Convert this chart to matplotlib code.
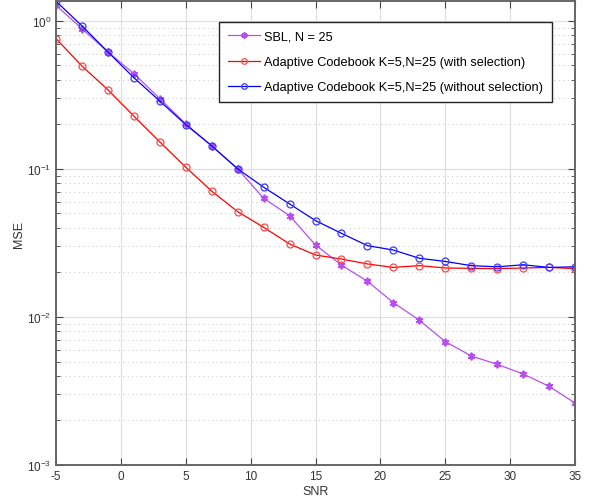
import matplotlib
matplotlib.use('Agg')
import matplotlib.pyplot as plt
from matplotlib.ticker import LogLocator, NullFormatter

# SNR grid (dB)
snr = [-5, -3, -1, 1, 3, 5, 7, 9, 11, 13, 15, 17, 19, 21, 23, 25, 27, 29, 31, 33, 35]

# MSE curves
mse_sbl = [1.27, 0.885, 0.616, 0.44, 0.298, 0.201, 0.143, 0.100, 0.0633, 0.0483, 0.0306,
           0.0224, 0.0174, 0.0125, 0.0095, 0.00682, 0.00545, 0.00479, 0.00412, 0.0034, 0.00262]
mse_sel = [0.758, 0.495, 0.342, 0.227, 0.152, 0.1026, 0.0707, 0.0514, 0.0403, 0.0311, 0.0262,
           0.0246, 0.0228, 0.0216, 0.0222, 0.0214, 0.0213, 0.0212, 0.0214, 0.0216, 0.0212]
mse_nosel = [1.355, 0.924, 0.616, 0.413, 0.287, 0.199, 0.143, 0.100, 0.0752, 0.058, 0.0447,
             0.0367, 0.0303, 0.0283, 0.0249, 0.0237, 0.0222, 0.0218, 0.0225, 0.0216, 0.0218]

labels = ["SBL, N = 25",
          "Adaptive Codebook K=5,N=25 (with selection)",
          "Adaptive Codebook K=5,N=25 (without selection)"]

plt.rcParams['font.family'] = ['Liberation Sans', 'DejaVu Sans']
plt.rcParams['axes.unicode_minus'] = False

fig = plt.figure(figsize=(5.92, 5.02), dpi=100)
ax = fig.add_axes([0.0946, 0.0717, 0.8767, 0.9243])

ax.semilogy(snr, mse_sbl, '-', marker=(6, 2, 0), color='#b84ef0', lw=0.9, ms=5.5, mew=1.3,
            label=labels[0])
ax.semilogy(snr, mse_sel, '-o', color='red', lw=0.9, ms=5, mfc='none', mec='#ff4848', mew=0.9,
            label=labels[1])
ax.semilogy(snr, mse_nosel, '-o', color='blue', lw=0.9, ms=5, mfc='none', mec='#3a3aff', mew=0.9,
            label=labels[2])

ax.set_xlim(-5, 35)
ax.set_ylim(1e-3, 1.36)
ax.set_xticks([-5, 0, 5, 10, 15, 20, 25, 30, 35])
ax.yaxis.set_major_locator(LogLocator(base=10, numticks=10))
ax.yaxis.set_minor_locator(LogLocator(base=10, subs=range(2, 10), numticks=10))
ax.yaxis.set_minor_formatter(NullFormatter())

ax.grid(True, which='major', color='#dddddd', lw=0.8, ls='-')
ax.grid(True, which='minor', axis='y', color='#cccccc', lw=0.8, ls=(0, (1, 3)))
ax.set_axisbelow(True)

for s in ax.spines.values():
    s.set_color('#666666')
    s.set_linewidth(1.4)
ax.tick_params(which='both', direction='in', top=True, right=True, colors='#444444',
               labelsize=8.5, labelcolor='#333333')
ax.tick_params(which='major', length=5)
ax.tick_params(which='minor', length=3)

ax.set_xlabel('SNR', fontsize=9, color='#333333', labelpad=2)
ax.set_ylabel('MSE', fontsize=9, color='#333333', labelpad=1)

leg = ax.legend(loc='upper right', bbox_to_anchor=(0.9557, 0.9554), borderaxespad=0,
                fontsize=9.2, fancybox=False, framealpha=1, edgecolor='#222222',
                borderpad=0.7, labelspacing=1.05, handlelength=2.5, handletextpad=0.3,
                markerscale=0.8)
leg.get_frame().set_linewidth(1.0)

fig.savefig('out.png', dpi=100)
